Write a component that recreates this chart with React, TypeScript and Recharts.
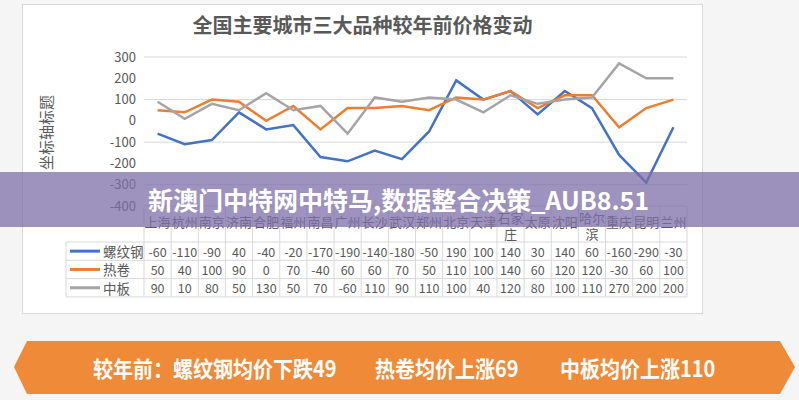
import React from 'react';
import { LineChart, Line, XAxis, YAxis, CartesianGrid } from 'recharts';

const CITIES = ['上海', '杭州', '南京', '济南', '合肥', '福州', '南昌', '广州', '长沙', '武汉', '郑州', '北京', '天津', '石家庄', '太原', '沈阳', '哈尔滨', '重庆', '昆明', '兰州'];
const REBAR = [-60, -110, -90, 40, -40, -20, -170, -190, -140, -180, -50, 190, 100, 140, 30, 140, 60, -160, -290, -30];
const HOT_COIL = [50, 40, 100, 90, 0, 70, -40, 60, 60, 70, 50, 110, 100, 140, 60, 120, 120, -30, 60, 100];
const PLATE = [90, 10, 80, 50, 130, 50, 70, -60, 110, 90, 110, 100, 40, 120, 80, 100, 110, 270, 200, 200];
const SERIES_NAMES = ['螺纹钢', '热卷', '中板'];
const SERIES_KEYS = ['rebar', 'hot', 'plate'];
const SERIES_COLORS = ['#4472c4', '#ed7d31', '#a5a5a5'];
const SERIES_VALUES = [REBAR, HOT_COIL, PLATE];
const Y_TICKS = [-400, -300, -200, -100, 0, 100, 200, 300];
const TITLE = '全国主要城市三大品种较年前价格变动';
const Y_LABEL = '坐标轴标题';
const BANNER = '新澳门中特网中特马,数据整合决策_AUB8.51';
const SUMMARY = ['较年前：螺纹钢均价下跌49', '热卷均价上涨69', '中板均价上涨110'];

const data = CITIES.map((city, i) => ({ city, rebar: REBAR[i], hot: HOT_COIL[i], plate: PLATE[i] }));

const FONT = "'Noto Sans CJK SC', 'Noto Sans', sans-serif";
const TEXT = '#595959';
const BORDER = '#d9d9d9';
const PLOT_LEFT = 144;
const PLOT_RIGHT = 687;
const BAND = (PLOT_RIGHT - PLOT_LEFT) / CITIES.length;
const HALF = BAND / 2;
const HEADER_H = 36;
const ROW_H = 18.3;
const LEGEND_W = 78;

function TableTick(props: any) {
  const { x, y, payload, index } = props;
  const label: string = String(payload.value);
  const parts = label.length > 2 ? [label.slice(0, 2), label.slice(2)] : [label];
  const bottom = y + HEADER_H + ROW_H * 3;
  return (
    <g fontFamily={FONT}>
      <line x1={x + HALF} x2={x + HALF} y1={y} y2={bottom} stroke={BORDER} />
      {index === 0 && <line x1={x - HALF} x2={x - HALF} y1={y} y2={bottom} stroke={BORDER} />}
      {parts.length === 1 ? (
        <text x={x} y={y + 15.5} textAnchor="middle" dominantBaseline="central" fontSize={13} fill={TEXT}>{label}</text>
      ) : (
        parts.map((p, k) => (
          <text key={k} x={x} y={y + 11 + k * 16} textAnchor="middle" dominantBaseline="central" fontSize={13} fill={TEXT}>{p}</text>
        ))
      )}
      {SERIES_VALUES.map((vals, k) => (
        <g key={k}>
          <line x1={x - HALF} x2={x + HALF} y1={y + HEADER_H + k * ROW_H} y2={y + HEADER_H + k * ROW_H} stroke={BORDER} />
          <text x={x} y={y + HEADER_H + k * ROW_H + ROW_H / 2} textAnchor="middle" dominantBaseline="central" fontSize={12.5} fill={TEXT}>{vals[index]}</text>
        </g>
      ))}
      <line x1={x - HALF} x2={x + HALF} y1={bottom} y2={bottom} stroke={BORDER} />
      {index === 0 && (
        <g>
          <line x1={x - HALF - LEGEND_W} x2={x - HALF - LEGEND_W} y1={y + HEADER_H} y2={bottom} stroke={BORDER} />
          {SERIES_NAMES.map((name, k) => {
            const top = y + HEADER_H + k * ROW_H;
            const lx = x - HALF - LEGEND_W;
            return (
              <g key={k}>
                <line x1={lx} x2={x - HALF} y1={top} y2={top} stroke={BORDER} />
                <line x1={lx + 4} x2={lx + 34} y1={top + ROW_H / 2} y2={top + ROW_H / 2} stroke={SERIES_COLORS[k]} strokeWidth={3} />
                <text x={lx + 37} y={top + ROW_H / 2} dominantBaseline="central" fontSize={13.5} fill={TEXT}>{name}</text>
              </g>
            );
          })}
          <line x1={x - HALF - LEGEND_W} x2={x - HALF} y1={bottom} y2={bottom} stroke={BORDER} />
        </g>
      )}
    </g>
  );
}

function YTitle(props: any) {
  const vb = props.viewBox || { x: 0, y: 57, width: 144, height: 149 };
  const cx = vb.x + 45;
  const cy = vb.y + vb.height / 2 + 1;
  return (
    <text x={cx} y={cy} transform={`rotate(-90, ${cx}, ${cy})`} textAnchor="middle" dominantBaseline="central" fontSize={15} fill={TEXT} fontFamily={FONT}>
      {Y_LABEL}
    </text>
  );
}

export default function App() {
  return (
    <div style={{ position: 'absolute', left: 0, top: 0, width: 799, height: 400, background: '#f5f5f5', overflow: 'hidden', fontFamily: FONT }}>
      <div style={{ position: 'absolute', left: 22, top: 4, width: 679, height: 308, background: '#ffffff', border: `1px solid ${BORDER}` }} />
      <div style={{ position: 'absolute', left: 0, top: 11, width: 725, textAlign: 'center', fontSize: 20, fontWeight: 700, color: TEXT, lineHeight: '28px' }}>{TITLE}</div>
      <div style={{ position: 'absolute', left: 0, top: 0 }}>
        <LineChart width={799} height={400} data={data} margin={{ top: 57, right: 799 - PLOT_RIGHT, bottom: 0, left: 0 }}>
          <CartesianGrid vertical={false} stroke={BORDER} />
          <XAxis
            dataKey="city"
            height={194}
            interval={0}
            axisLine={false}
            tickLine={false}
            tickSize={0}
            tickMargin={0}
            padding={{ left: HALF, right: HALF }}
            tick={<TableTick />}
          />
          <YAxis
            width={PLOT_LEFT}
            domain={[-400, 300]}
            ticks={Y_TICKS}
            axisLine={false}
            tickLine={false}
            tick={{ fontSize: 13, fill: TEXT, fontFamily: FONT }}
            label={<YTitle />}
          />
          {SERIES_KEYS.map((k, i) => (
            <Line key={k} dataKey={k} name={SERIES_NAMES[i]} stroke={SERIES_COLORS[i]} strokeWidth={2.5} dot={false} isAnimationActive={false} />
          ))}
        </LineChart>
      </div>
      <div style={{ position: 'absolute', left: 0, top: 172, width: 799, height: 55, background: 'rgba(125,110,170,0.75)' }} />
      <div style={{ position: 'absolute', left: 148, top: 172, height: 55, lineHeight: '55px', fontSize: 25, fontWeight: 700, color: '#ffffff', whiteSpace: 'nowrap' }}>{BANNER}</div>
      <svg style={{ position: 'absolute', left: 0, top: 0 }} width={799} height={400}>
        <polygon points="14,367 27,341 780,341 795,367 780,394 27,394" fill="#ef8a38" />
      </svg>
      {SUMMARY.map((s, i) => (
        <div key={i} style={{ position: 'absolute', left: [93, 375, 560][i], top: 341, height: 53, lineHeight: '53px', fontSize: 20, fontWeight: 700, color: '#ffffff', whiteSpace: 'nowrap', transform: 'scaleY(1.1)' }}>{s}</div>
      ))}
    </div>
  );
}
